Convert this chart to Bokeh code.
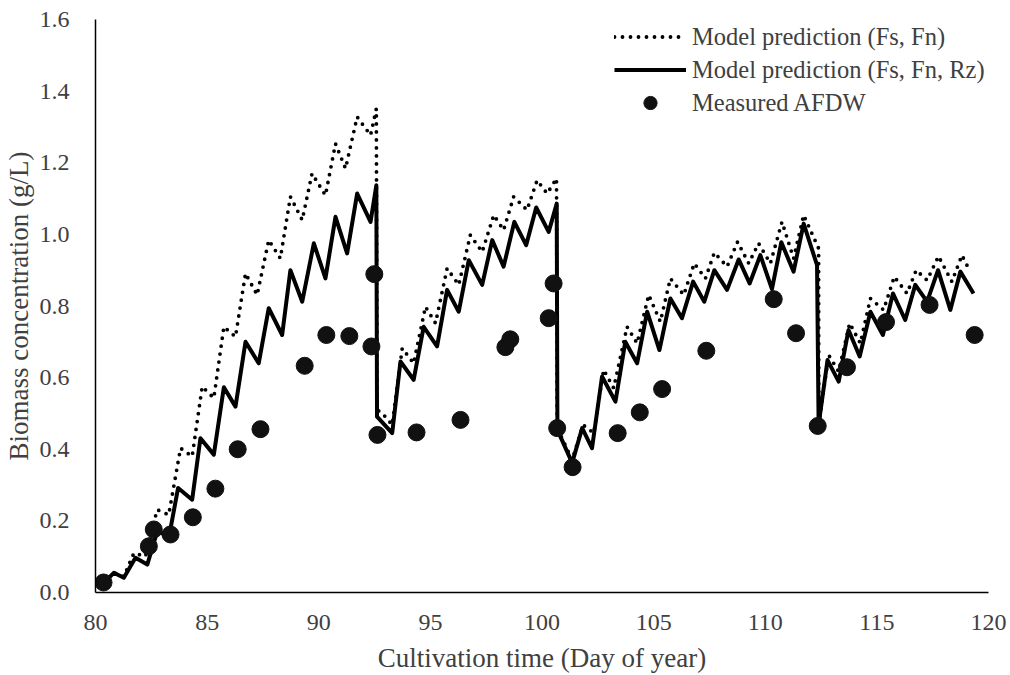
from bokeh.plotting import figure
from bokeh.models import FixedTicker, PrintfTickFormatter, Legend, LegendItem, Range1d
from bokeh.embed import file_html
from bokeh.resources import INLINE

# Model prediction (Fs, Fn) - dotted
fsfn_day = [80.37, 80.82, 81.27, 81.72, 82.24, 82.76, 83.28, 83.81, 84.33, 84.78, 85.30, 85.75,
            86.27, 86.72, 87.24, 87.76, 88.28, 88.73, 89.26, 89.70, 90.30, 90.75, 91.20, 91.72,
            92.32, 92.58, 92.61, 92.84, 93.29, 93.74, 94.25, 94.78, 95.23, 95.75, 96.27, 96.79,
            97.32, 97.84, 98.28, 98.73, 99.33, 99.78, 100.23, 100.65, 100.68, 101.35, 101.84,
            102.32, 102.76, 103.21, 103.81, 104.26, 104.78, 105.30, 105.75, 106.35, 106.82,
            107.32, 107.72, 108.29, 108.76, 109.26, 109.70, 110.23, 110.75, 111.27, 111.72,
            112.39, 112.40, 112.84, 113.29, 113.78, 114.26, 114.71, 115.30, 115.78, 116.35,
            116.76, 117.25, 117.76, 118.36, 118.81, 119.18]
fsfn_val = [0.027, 0.055, 0.045, 0.110, 0.101, 0.231, 0.217, 0.403, 0.380, 0.575, 0.543, 0.742,
            0.714, 0.891, 0.831, 0.984, 0.933, 1.105, 1.040, 1.170, 1.109, 1.253, 1.184, 1.328,
            1.277, 1.351, 0.510, 0.501, 0.468, 0.682, 0.640, 0.798, 0.752, 0.905, 0.859, 0.998,
            0.951, 1.054, 1.012, 1.105, 1.068, 1.151, 1.114, 1.156, 0.460, 0.370, 0.468,
            0.445, 0.622, 0.571, 0.742, 0.696, 0.831, 0.756, 0.877, 0.831, 0.919,
            0.877, 0.949, 0.910, 0.979, 0.919, 0.975, 0.919, 1.035, 0.933, 1.054,
            0.961, 0.470, 0.663, 0.617, 0.752, 0.696, 0.821, 0.789, 0.882, 0.835,
            0.900, 0.872, 0.939, 0.868, 0.942, 0.896]

# Model prediction (Fs, Fn, Rz) - solid
fsfnrz_day = [80.37, 80.82, 81.27, 81.79, 82.32, 82.76, 83.30, 83.70, 84.33, 84.70, 85.30, 85.75,
              86.27, 86.72, 87.31, 87.76, 88.36, 88.73, 89.26, 89.78, 90.30, 90.75, 91.27, 91.72,
              92.32, 92.58, 92.61, 93.29, 93.66, 94.25, 94.70, 95.30, 95.75, 96.27, 96.72, 97.32,
              97.77, 98.28, 98.76, 99.29, 99.74, 100.30, 100.66, 100.69, 101.35, 101.80, 102.24,
              102.69, 103.29, 103.73, 104.26, 104.71, 105.26, 105.75, 106.27, 106.77, 107.27,
              107.72, 108.29, 108.81, 109.30, 109.78, 110.30, 110.72, 111.27, 111.72, 112.32,
              112.39, 112.79, 113.29, 113.73, 114.23, 114.71, 115.27, 115.72, 116.27, 116.72,
              117.25, 117.74, 118.29, 118.74, 119.33]
fsfnrz_val = [0.027, 0.055, 0.041, 0.097, 0.078, 0.170, 0.158, 0.292, 0.259, 0.431, 0.385, 0.573,
              0.519, 0.700, 0.640, 0.794, 0.719, 0.900, 0.812, 0.975, 0.877, 1.049, 0.947, 1.114,
              1.035, 1.137, 0.491, 0.445, 0.645, 0.594, 0.742, 0.687, 0.845, 0.784, 0.928, 0.859,
              0.984, 0.910, 1.035, 0.970, 1.075, 1.007, 1.086, 0.454, 0.362, 0.459, 0.403,
              0.603, 0.533, 0.700, 0.640, 0.784, 0.677, 0.821, 0.766, 0.868, 0.812,
              0.900, 0.845, 0.930, 0.863, 0.942, 0.847, 0.978, 0.896, 1.030, 0.914,
              0.468, 0.649, 0.589, 0.733, 0.659, 0.784, 0.719, 0.835, 0.761, 0.859,
              0.812, 0.900, 0.789, 0.896, 0.835]

# Measured AFDW
afdw_day = [80.36, 82.39, 82.61, 83.36, 84.36, 85.37, 86.37, 87.39, 89.37, 90.34, 91.37, 92.36,
            92.49, 92.63, 94.38, 96.35, 98.36, 98.58, 100.30, 100.52, 100.68, 101.37, 103.39,
            104.38, 105.38, 107.36, 110.38, 111.38, 112.35, 113.66, 115.41, 117.36, 119.38]
afdw_val = [0.028, 0.129, 0.176, 0.162, 0.210, 0.290, 0.400, 0.456, 0.633, 0.719, 0.716, 0.687,
            0.889, 0.440, 0.447, 0.482, 0.685, 0.707, 0.766, 0.863, 0.459, 0.350, 0.445,
            0.503, 0.568, 0.675, 0.819, 0.724, 0.465, 0.629, 0.755, 0.803, 0.719]

x_ticks = [80, 85, 90, 95, 100, 105, 110, 115, 120]
y_ticks = [0.0, 0.2, 0.4, 0.6, 0.8, 1.0, 1.2, 1.4, 1.6]

FONT = "Liberation Serif"
TXT = "#404040"

p = figure(width=1010, height=675, output_backend="svg", toolbar_location=None,
           x_range=Range1d(80, 120), y_range=Range1d(0, 1.6),
           min_border_left=95, min_border_right=22, min_border_top=19, min_border_bottom=83)
p.outline_line_color = None
p.grid.visible = False
p.background_fill_color = "white"
p.border_fill_color = "white"

r_dot = p.line(fsfn_day, fsfn_val, line_color="black", line_width=3.8,
               line_dash="0 8", line_cap="round")
r_sol = p.line(fsfnrz_day, fsfnrz_val, line_color="black", line_width=4, line_join="round")
r_pts = p.scatter(afdw_day, afdw_val, size=17, fill_color="#111111", line_color="#111111")

for ax in (p.xaxis[0], p.yaxis[0]):
    ax.axis_line_color = "black"
    ax.axis_line_width = 1.5
    ax.major_tick_line_color = None
    ax.minor_tick_line_color = None
    ax.major_label_text_font = FONT
    ax.major_label_text_font_size = "24px"
    ax.major_label_text_color = TXT
    ax.axis_label_text_font = FONT
    ax.axis_label_text_font_size = "27px"
    ax.axis_label_text_font_style = "normal"
    ax.axis_label_text_color = TXT

p.xaxis.ticker = FixedTicker(ticks=x_ticks)
p.yaxis.ticker = FixedTicker(ticks=y_ticks)
p.yaxis.formatter = PrintfTickFormatter(format="%.1f")
p.xaxis.major_label_standoff = 16
p.yaxis.major_label_standoff = 20
p.xaxis.axis_label = "Cultivation time (Day of year)"
p.yaxis.axis_label = "Biomass concentration (g/L)"
p.xaxis.axis_label_standoff = 10
p.yaxis.axis_label_standoff = 3

legend = Legend(items=[
    LegendItem(label="Model prediction (Fs, Fn)", renderers=[r_dot]),
    LegendItem(label="Model prediction (Fs, Fn, Rz)", renderers=[r_sol]),
    LegendItem(label="Measured AFDW", renderers=[r_pts]),
], location=(519, 473), glyph_width=72, glyph_height=33, label_height=33,
   spacing=0, padding=0, margin=0, label_standoff=6,
   border_line_color=None, background_fill_alpha=0,
   label_text_font=FONT, label_text_font_size="24.5px", label_text_color=TXT)
p.add_layout(legend)

open("out.html", "w").write(file_html(p, INLINE))
